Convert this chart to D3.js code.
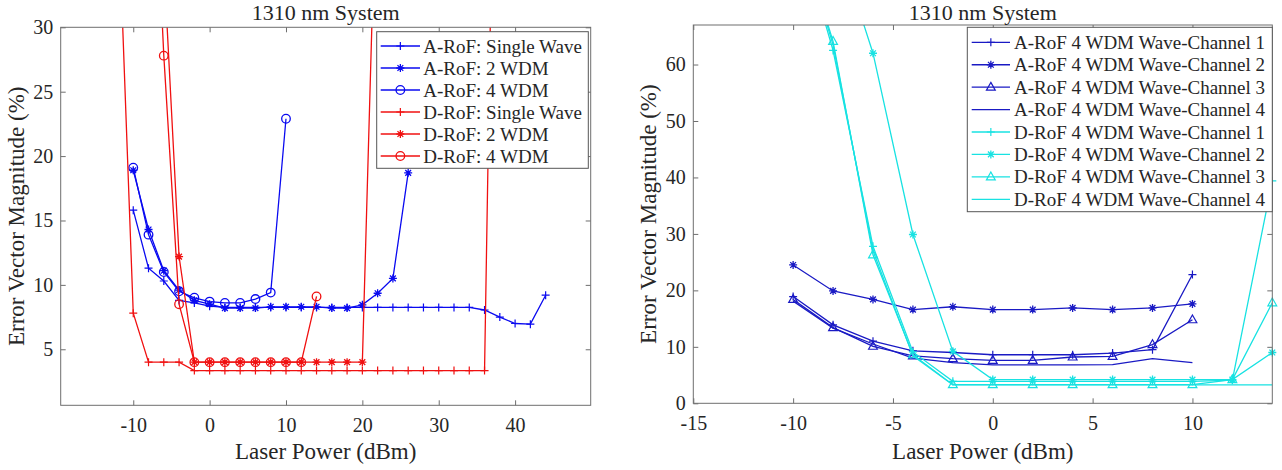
<!DOCTYPE html>
<html lang="en">
<head>
<meta charset="utf-8">
<title>1310 nm System - EVM vs Laser Power</title>
<script src="https://d3js.org/d3.v7.min.js"></script>
<style>
  body { margin: 0; background: #fff; }
  svg, svg text { font-family: "Liberation Serif", "Times New Roman", Times, "DejaVu Serif", serif; }
</style>
</head>
<body>
<svg id="chart" width="1282" height="470"></svg>
<script>
  // ---- left panel: EVM for single wave / 2 WDM / 4 WDM ----
  const leftXTicks = [-10, 0, 10, 20, 30, 40];
  const leftYTicks = [5, 10, 15, 20, 25, 30];

  const aSingleX = [-10, -8, -6, -4, -2, 0, 2, 4, 6, 8, 10, 12, 14, 16, 18, 20, 22, 24, 26, 28, 30, 32, 34, 36, 38, 40, 42, 44];
  const aSingleY = [15.8, 11.3, 10.3, 8.8, 8.6, 8.35, 8.25, 8.25, 8.25, 8.25, 8.25, 8.25, 8.25, 8.25, 8.25, 8.25, 8.25, 8.25, 8.25, 8.25, 8.25, 8.25, 8.25, 8.05, 7.5, 7.0, 6.95, 9.2];
  const a2wdmX = [-10, -8, -6, -4, -2, 0, 2, 4, 6, 8, 10, 12, 14, 16, 18, 20, 22, 24, 26];
  const a2wdmY = [18.9, 14.3, 11.1, 9.6, 8.8, 8.5, 8.2, 8.2, 8.2, 8.3, 8.3, 8.3, 8.3, 8.2, 8.2, 8.45, 9.35, 10.5, 18.7];
  const a4wdmX = [-10, -8, -6, -4, -2, 0, 2, 4, 6, 8, 10];
  const a4wdmY = [19.1, 13.9, 11.0, 9.5, 9.0, 8.7, 8.6, 8.6, 8.9, 9.4, 22.9];
  const dSingleX = [-12, -10, -8, -6, -4, -2, 0, 2, 4, 6, 8, 10, 12, 14, 16, 18, 20, 22, 24, 26, 28, 30, 32, 34, 36, 38];
  const dSingleY = [40, 7.8, 4.0, 4.0, 4.0, 3.35, 3.35, 3.35, 3.35, 3.35, 3.35, 3.35, 3.35, 3.35, 3.35, 3.35, 3.35, 3.35, 3.35, 3.35, 3.35, 3.35, 3.35, 3.35, 3.35, 75];
  const d2wdmX = [-6, -4, -2, 0, 2, 4, 6, 8, 10, 12, 14, 16, 18, 20, 22];
  const d2wdmY = [35, 12.2, 4.0, 4.0, 4.0, 4.0, 4.0, 4.0, 4.0, 4.0, 4.0, 4.0, 4.0, 4.0, 46];
  const d4wdmX = [-8, -6, -4, -2, 0, 2, 4, 6, 8, 10, 12, 14];
  const d4wdmY = [53, 27.8, 8.5, 4.0, 4.0, 4.0, 4.0, 4.0, 4.0, 4.0, 4.0, 9.1];

  // ---- right panel: per-channel EVM, 4 WDM ----
  const rightXTicks = [-15, -10, -5, 0, 5, 10];
  const rightYTicks = [0, 10, 20, 30, 40, 50, 60];

  const aChX = [-10, -8, -6, -4, -2, 0, 2, 4, 6, 8, 10];
  const aCh1Y = [18.9, 13.9, 11.0, 9.3, 9.0, 8.6, 8.6, 8.6, 8.9, 9.5, 22.8];
  const aCh2Y = [24.5, 19.9, 18.4, 16.6, 17.1, 16.6, 16.6, 16.9, 16.6, 16.9, 17.6];
  const aCh3Y = [18.4, 13.4, 10.1, 8.4, 7.9, 7.6, 7.6, 8.2, 8.3, 10.4, 14.8];
  const aCh4Y = [18.1, 13.3, 10.5, 8.0, 7.2, 6.8, 6.8, 6.8, 6.85, 7.9, 7.2];
  const dChX = [-10, -8, -6, -4, -2, 0, 2, 4, 6, 8, 10, 12, 14];
  const dCh1Y = [87, 62.5, 27.8, 9.1, 3.9, 3.9, 3.9, 3.9, 3.9, 3.9, 3.9, 4.1, 39.4];
  const dCh2X = [-8, -6, -4, -2, 0, 2, 4, 6, 8, 10, 12, 14];
  const dCh2Y = [84, 62.0, 29.9, 9.2, 4.2, 4.2, 4.2, 4.2, 4.2, 4.2, 4.2, 9.0];
  const dCh3Y = [87, 64.1, 26.3, 8.6, 3.3, 3.3, 3.3, 3.3, 3.3, 3.3, 3.3, 4.2, 17.8];
  const dCh4Y = [87, 63.5, 27.0, 8.4, 3.25, 3.25, 3.25, 3.25, 3.25, 3.25, 3.25, 3.25, 3.25];

  const BLUE = "#0a0af0", RED = "#f01010", NAVY = "#1a1ac4", CYAN = "#18e2e2";
  const TEXT = "#262626", AXIS = "#6e6e6e";
  const FONT = "'Liberation Serif', 'Times New Roman', Times, 'DejaVu Serif', serif";

  const svg = d3.select("#chart");

  // plain hyphen minus like the original figure
  const tickFmt = d => String(d);

  function drawMarker(g, type, cx, cy, color) {
    const s = 4;
    if (type === "plus") {
      g.append("path").attr("d", `M${cx - s},${cy}H${cx + s}M${cx},${cy - s}V${cy + s}`)
        .attr("stroke", color).attr("stroke-width", 1.2).attr("fill", "none");
    } else if (type === "star") {
      const k = s * 0.72;
      g.append("path").attr("d", `M${cx - s},${cy}H${cx + s}M${cx},${cy - s}V${cy + s}` +
          `M${cx - k},${cy - k}L${cx + k},${cy + k}M${cx - k},${cy + k}L${cx + k},${cy - k}`)
        .attr("stroke", color).attr("stroke-width", 1.3).attr("fill", "none");
    } else if (type === "circle") {
      g.append("circle").attr("cx", cx).attr("cy", cy).attr("r", 4.3)
        .attr("stroke", color).attr("stroke-width", 1.3).attr("fill", "none");
    } else if (type === "tri") {
      g.append("path").attr("d", `M${cx},${cy - 4.8}L${cx + 4.4},${cy + 3}L${cx - 4.4},${cy + 3}Z`)
        .attr("stroke", color).attr("stroke-width", 1.2).attr("fill", "none");
    }
  }

  function drawPanel(p) {
    const x = d3.scaleLinear().domain(p.xDomain).range([p.left, p.right]);
    const y = d3.scaleLinear().domain(p.yDomain).range([p.bottom, p.top]);
    const g = svg.append("g");

    g.append("clipPath").attr("id", "clip-" + p.id)
      .append("rect")
      .attr("x", p.left).attr("y", p.top)
      .attr("width", p.right - p.left).attr("height", p.bottom - p.top);

    // data lines and markers
    const lineGen = d3.line().x(d => x(d[0])).y(d => y(d[1]));
    p.series.forEach(s => {
      const pts = s.x.map((v, i) => [v, s.y[i]]);
      g.append("path").datum(pts)
        .attr("d", lineGen)
        .attr("fill", "none")
        .attr("stroke", s.color)
        .attr("stroke-width", 1.3)
        .attr("clip-path", `url(#clip-${p.id})`);
      const mg = g.append("g");
      pts.filter(d => d[1] >= p.yDomain[0] && d[1] <= p.yDomain[1] && d[0] >= p.xDomain[0] && d[0] <= p.xDomain[1])
        .forEach(d => drawMarker(mg, s.marker, x(d[0]), y(d[1]), s.color));
    });

    // axes with inward ticks (box style)
    const styleAxis = sel => {
      sel.select(".domain").remove();
      sel.attr("font-family", FONT).attr("font-size", 20);
      sel.selectAll(".tick line").attr("stroke", AXIS);
      sel.selectAll("text").attr("fill", TEXT).style("font-family", FONT).style("font-size", "20px");
    };
    g.append("g").attr("transform", `translate(0,${p.bottom})`)
      .call(d3.axisBottom(x).tickValues(p.xTicks).tickFormat(tickFmt).tickSizeInner(-5).tickSizeOuter(0).tickPadding(13))
      .call(styleAxis);
    g.append("g").attr("transform", `translate(0,${p.top})`)
      .call(d3.axisTop(x).tickValues(p.xTicks).tickFormat("").tickSizeInner(-5).tickSizeOuter(0))
      .call(styleAxis);
    g.append("g").attr("transform", `translate(${p.left},0)`)
      .call(d3.axisLeft(y).tickValues(p.yTicks).tickFormat(tickFmt).tickSizeInner(-5).tickSizeOuter(0).tickPadding(7.5))
      .call(styleAxis);
    g.append("g").attr("transform", `translate(${p.right},0)`)
      .call(d3.axisRight(y).tickValues(p.yTicks).tickFormat("").tickSizeInner(-5).tickSizeOuter(0))
      .call(styleAxis);

    g.append("rect")
      .attr("x", p.left).attr("y", p.top)
      .attr("width", p.right - p.left).attr("height", p.bottom - p.top)
      .attr("fill", "none").attr("stroke", AXIS).attr("stroke-width", 1);

    // title and axis labels
    g.append("text")
      .attr("x", (p.left + p.right) / 2).attr("y", 19.5)
      .attr("text-anchor", "middle").style("font-family", FONT).style("font-size", "22px").attr("fill", TEXT)
      .text(p.title);
    g.append("text")
      .attr("x", (p.left + p.right) / 2).attr("y", 459)
      .attr("text-anchor", "middle").style("font-family", FONT).style("font-size", "23px").attr("fill", TEXT)
      .text("Laser Power (dBm)");
    g.append("text")
      .attr("transform", `translate(${p.yLabelX},${(p.top + p.bottom) / 2}) rotate(-90)`)
      .attr("text-anchor", "middle").style("font-family", FONT).style("font-size", "23px").attr("fill", TEXT)
      .text("Error Vector Magnitude (%)");

    // legend
    const L = p.legend;
    const lg = g.append("g");
    lg.append("rect")
      .attr("x", L.x0).attr("y", L.y0)
      .attr("width", L.x1 - L.x0).attr("height", L.y1 - L.y0)
      .attr("fill", "#fff").attr("stroke", "#555").attr("stroke-width", 1);
    p.series.forEach((s, i) => {
      const cy = L.row0 + i * L.rowStep;
      lg.append("line")
        .attr("x1", L.lineX0).attr("x2", L.lineX1).attr("y1", cy).attr("y2", cy)
        .attr("stroke", s.color).attr("stroke-width", 1.3);
      drawMarker(lg, s.marker, (L.lineX0 + L.lineX1) / 2, cy, s.color);
      lg.append("text")
        .attr("x", L.textX).attr("y", cy + 6.5)
        .style("font-family", FONT).style("font-size", "19px").attr("fill", TEXT)
        .text(s.name);
    });
  }

  drawPanel({
    id: "left", title: "1310 nm System",
    left: 60.7, right: 590.7, top: 27.3, bottom: 405.3,
    xDomain: [-19.5, 49.9], yDomain: [0.65, 30],
    xTicks: leftXTicks, yTicks: leftYTicks, yLabelX: 24,
    series: [
      { name: "A-RoF: Single Wave", x: aSingleX, y: aSingleY, color: BLUE, marker: "plus" },
      { name: "A-RoF: 2 WDM", x: a2wdmX, y: a2wdmY, color: BLUE, marker: "star" },
      { name: "A-RoF: 4 WDM", x: a4wdmX, y: a4wdmY, color: BLUE, marker: "circle" },
      { name: "D-RoF: Single Wave", x: dSingleX, y: dSingleY, color: RED, marker: "plus" },
      { name: "D-RoF: 2 WDM", x: d2wdmX, y: d2wdmY, color: RED, marker: "star" },
      { name: "D-RoF: 4 WDM", x: d4wdmX, y: d4wdmY, color: RED, marker: "circle" }
    ],
    legend: { x0: 376.7, x1: 588.3, y0: 31.7, y1: 168.3, row0: 46, rowStep: 22,
              lineX0: 380.7, lineX1: 420, textX: 423.3 }
  });

  drawPanel({
    id: "right", title: "1310 nm System",
    left: 693.3, right: 1272.3, top: 25, bottom: 403.3,
    xDomain: [-15, 14], yDomain: [0, 67],
    xTicks: rightXTicks, yTicks: rightYTicks, yLabelX: 656,
    series: [
      { name: "A-RoF 4 WDM Wave-Channel 1", x: aChX, y: aCh1Y, color: NAVY, marker: "plus" },
      { name: "A-RoF 4 WDM Wave-Channel 2", x: aChX, y: aCh2Y, color: NAVY, marker: "star" },
      { name: "A-RoF 4 WDM Wave-Channel 3", x: aChX, y: aCh3Y, color: NAVY, marker: "tri" },
      { name: "A-RoF 4 WDM Wave-Channel 4", x: aChX, y: aCh4Y, color: NAVY, marker: "none" },
      { name: "D-RoF 4 WDM Wave-Channel 1", x: dChX, y: dCh1Y, color: CYAN, marker: "plus" },
      { name: "D-RoF 4 WDM Wave-Channel 2", x: dCh2X, y: dCh2Y, color: CYAN, marker: "star" },
      { name: "D-RoF 4 WDM Wave-Channel 3", x: dChX, y: dCh3Y, color: CYAN, marker: "tri" },
      { name: "D-RoF 4 WDM Wave-Channel 4", x: dChX, y: dCh4Y, color: CYAN, marker: "none" }
    ],
    legend: { x0: 967.3, x1: 1272.3, y0: 27.3, y1: 211.7, row0: 42.3, rowStep: 22.43,
              lineX0: 971.7, lineX1: 1010, textX: 1014 }
  });
</script>
</body>
</html>
